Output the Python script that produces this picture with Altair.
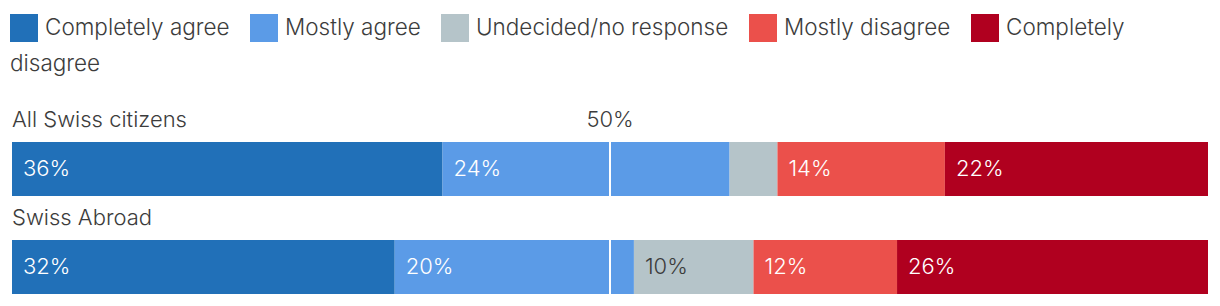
import altair as alt
import pandas as pd

categories = ["Completely agree", "Mostly agree", "Undecided/no response",
              "Mostly disagree", "Completely disagree"]
groups = ["All Swiss citizens", "Swiss Abroad"]
all_swiss = [36, 24, 4, 14, 22]
swiss_abroad = [32, 20, 10, 12, 26]
colors = ["#2170b8", "#5b9be7", "#b5c4c9", "#eb504b", "#b0001f"]
midpoint = [50]

rows = []
for g, vals in zip(groups, [all_swiss, swiss_abroad]):
    for i, (c, v) in enumerate(zip(categories, vals)):
        rows.append({"group": g, "category": c, "value": v, "order": i})
df = pd.DataFrame(rows)

FONT = "Inter"
TXT = "#3c3c3c"

y_enc = alt.Y("group:N", sort=groups, axis=None,
              scale=alt.Scale(paddingInner=44 / 98, paddingOuter=0))

base = alt.Chart(df)

bars = base.mark_bar().encode(
    x=alt.X("value:Q", stack="zero", axis=None,
            scale=alt.Scale(domain=[0, 100], nice=False, zero=True)),
    y=y_enc,
    color=alt.Color("category:N", sort=categories,
                    scale=alt.Scale(domain=categories, range=colors),
                    legend=alt.Legend(
                        title=None, orient="none", direction="horizontal",
                        legendX=-2, legendY=-128, columns=5,
                        symbolType="square", symbolSize=784,
                        symbolStrokeWidth=0, symbolOpacity=1,
                        labelFont=FONT, labelFontSize=22.5, labelFontWeight=300,
                        labelColor=TXT,
                        labelOffset=7, columnPadding=20, labelLimit=400,
                        labelExpr="datum.label == 'Completely disagree' ? 'Completely' : datum.label",
                    )),
    order=alt.Order("order:Q", sort="ascending"),
)

labels = base.transform_stack(
    stack="value", groupby=["group"], as_=["start", "end"],
    sort=[alt.SortField("order", order="ascending")]
).transform_filter(
    alt.datum.value >= 5
).transform_calculate(
    lab="datum.value + '%'"
).mark_text(align="left", baseline="middle", dx=11, font=FONT,
            fontSize=22, fontWeight=300).encode(
    x=alt.X("start:Q"),
    y=y_enc,
    text="lab:N",
    color=alt.condition(alt.datum.category == "Undecided/no response",
                        alt.value(TXT), alt.value("white")),
)

row_labels = alt.Chart(pd.DataFrame({"group": groups})).mark_text(
    align="left", baseline="alphabetic", dy=-15, font=FONT, fontSize=22,
    fontWeight=300, color=TXT
).encode(
    x=alt.value(0),
    y=alt.Y("group:N", sort=groups, axis=None, bandPosition=0,
            scale=alt.Scale(paddingInner=44 / 98, paddingOuter=0)),
    text="group:N",
)

mid_df = pd.DataFrame({"mid": midpoint})
rule = alt.Chart(mid_df).mark_rule(color="white", strokeWidth=2).encode(
    x="mid:Q", y=alt.value(0), y2=alt.value(152))

mid_label = alt.Chart(mid_df).transform_calculate(
    lab="datum.mid + '%'"
).mark_text(align="center", baseline="alphabetic", font=FONT, fontSize=22,
            fontWeight=300, color=TXT).encode(
    x="mid:Q", y=alt.value(-15), text="lab:N")

wrap = alt.Chart(pd.DataFrame({"t": ["disagree"]})).mark_text(
    align="left", baseline="alphabetic", font=FONT, fontSize=22.5,
    fontWeight=300, color=TXT
).encode(x=alt.value(-2), y=alt.value(-71), text="t:N")

chart = alt.layer(bars, labels, rule, row_labels, mid_label, wrap).properties(
    width=1196, height=152,
    autosize=alt.AutoSizeParams(type="none"),
    padding={"left": 12, "top": 142, "right": 12, "bottom": 12},
).configure_view(stroke=None)

chart.save("out.html", embed_options={"renderer": "svg", "actions": False})
